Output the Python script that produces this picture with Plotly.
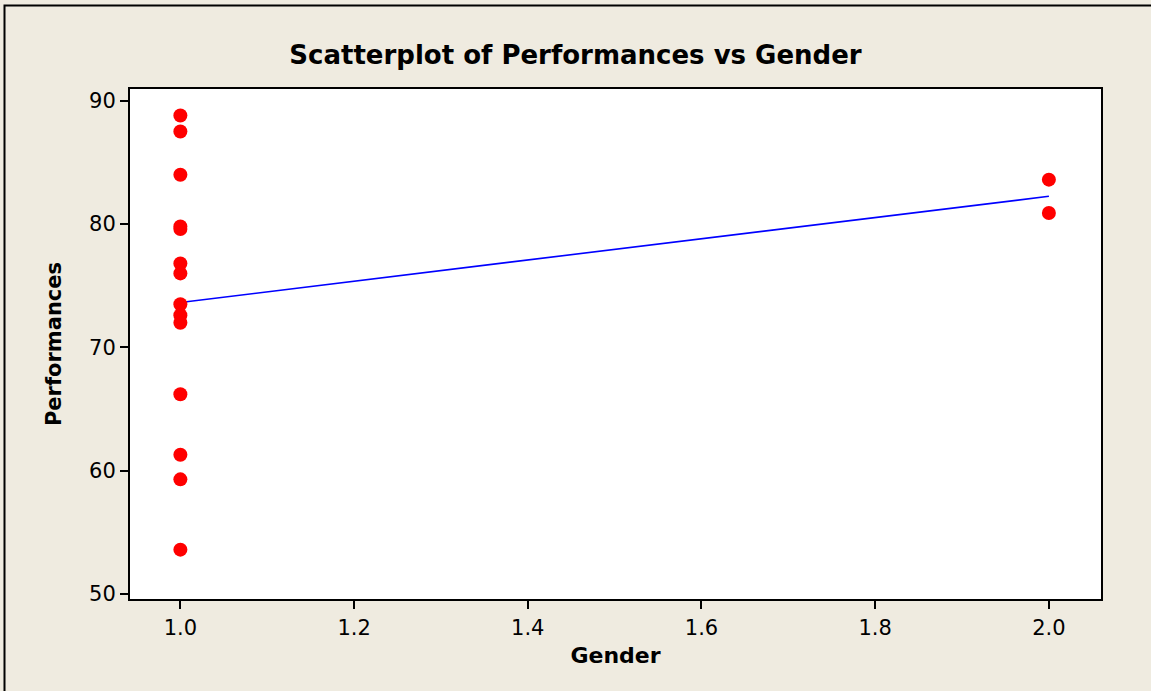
import numpy as np
import plotly.graph_objects as go

# Performance scores by gender (1 / 2)
gender = [1, 1, 1, 1, 1, 1, 1, 1, 1, 1, 1, 1, 1, 1, 2, 2]
performance = [88.8, 87.5, 84.0, 79.8, 79.6, 76.8, 76.0, 73.5, 72.6, 72.0,
               66.2, 61.3, 59.3, 53.6, 83.6, 80.9]
x_ticks = [1.0, 1.2, 1.4, 1.6, 1.8, 2.0]
y_ticks = [50, 60, 70, 80, 90]

slope, intercept = np.polyfit(gender, performance, 1)
fit_x = [min(gender), max(gender)]
fit_y = [intercept + slope * v for v in fit_x]

bg = "#EFEBE0"
font = "DejaVu Sans, Verdana, sans-serif"

fig = go.Figure()
fig.add_trace(go.Scatter(x=fit_x, y=fit_y, mode="lines",
                         line=dict(color="#0000FF", width=1.6), showlegend=False))
fig.add_trace(go.Scatter(x=gender, y=performance, mode="markers",
                         marker=dict(color="#FF0000", size=14), showlegend=False))

axis_style = dict(showline=True, linecolor="black", linewidth=2, mirror=True,
                  ticks="outside", ticklen=8, tickwidth=1.5, tickcolor="black",
                  showgrid=False, zeroline=False,
                  tickfont=dict(family=font, size=21, color="black"))

fig.update_xaxes(range=[0.942, 2.06], tickvals=x_ticks,
                 ticktext=[f"{v:.1f}" for v in x_ticks],
                 ticklabelstandoff=1,
                 title=dict(text="<b>Gender</b>", standoff=8,
                            font=dict(family=font, size=22, color="black")),
                 **axis_style)
fig.update_yaxes(range=[49.6, 90.95], tickvals=y_ticks,
                 title=dict(text="<b>Performances</b>", standoff=22,
                            font=dict(family=font, size=21, color="black")),
                 **axis_style)

# outer frame (left and top edges visible)
pw, ph = 971, 510
fig.add_shape(type="rect", xref="paper", yref="paper",
              x0=(4.5 - 130) / pw, x1=(1160 - 130) / pw,
              y0=(599 - 700) / ph, y1=(599 - 5.5) / ph,
              line=dict(color="black", width=2), fillcolor="rgba(0,0,0,0)",
              layer="below")

fig.update_layout(
    width=1151, height=691,
    margin=dict(l=130, r=50, t=89, b=92),
    paper_bgcolor=bg, plot_bgcolor="white",
    title=dict(text="<b>Scatterplot of Performances vs Gender</b>",
               x=0.5, xanchor="center", y=1 - 55 / 691, yanchor="middle",
               font=dict(family=font, size=26, color="black")),
)

fig.write_html("out.html", config={"displayModeBar": False},
               post_script="document.body.style.margin='0';")
